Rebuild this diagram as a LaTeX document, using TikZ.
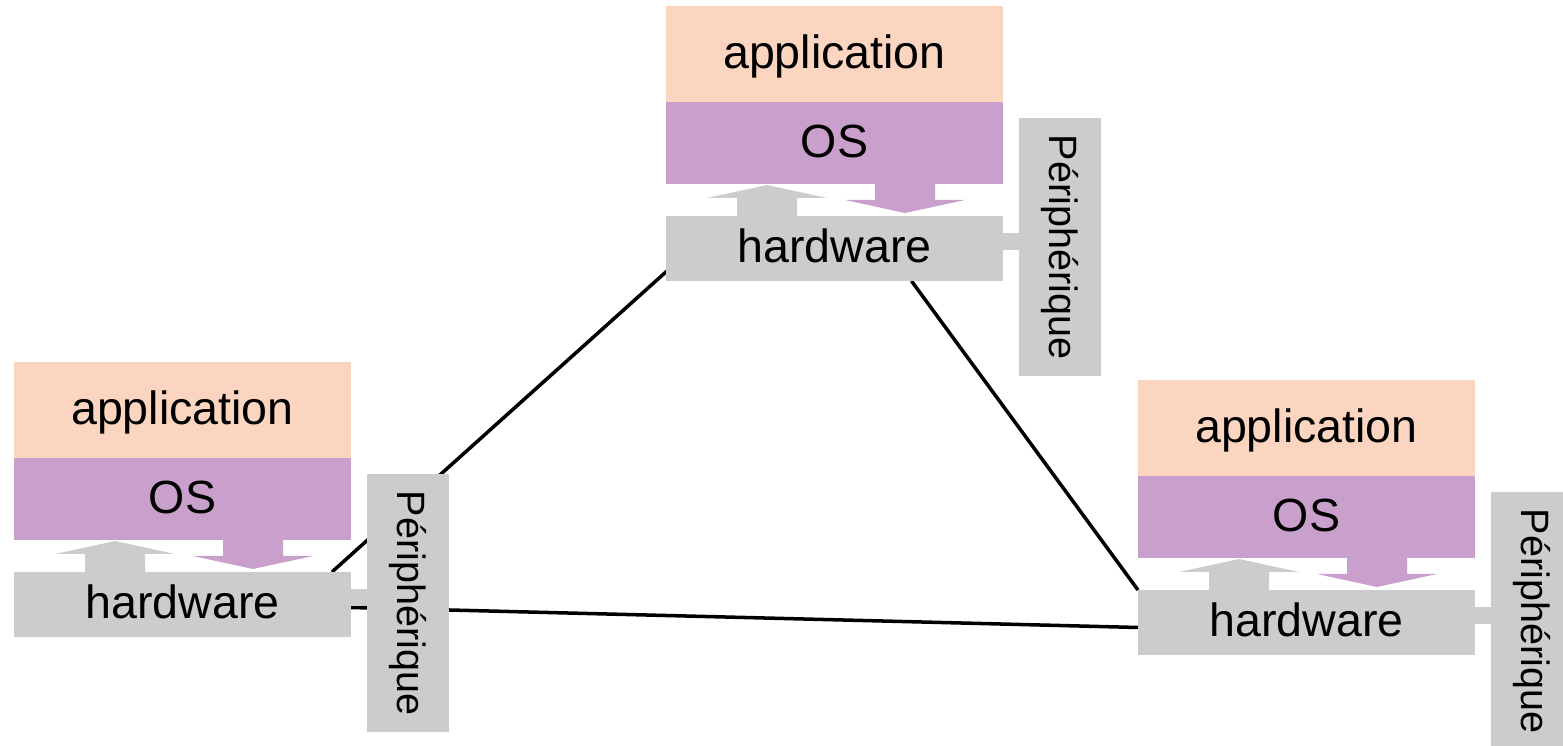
\documentclass[tikz,border=0pt]{standalone}
\usepackage{fontspec}
\setmainfont{Liberation Sans}
\usetikzlibrary{calc,backgrounds}
\definecolor{appcol}{RGB}{252,213,192}
\definecolor{oscol}{RGB}{200,160,203}
\definecolor{hwcol}{RGB}{204,204,204}
\tikzset{%
  stack box/.style={
    inner sep=0pt,
    outer sep=0pt,
    minimum width=6.74cm,
    text height=0.58cm,
    text depth=0pt,
    anchor=north west,
    font=\fontsize{26.5}{30}\selectfont
  },
  periph/.style={
    fill=hwcol,
    rotate=-90,
    inner sep=0pt,
    minimum width=5.16cm,
    minimum height=1.64cm,
    font=\fontsize{22.5}{26}\selectfont
  },
  link/.style={line width=2pt, black},
}

\begin{document}
\begin{tikzpicture}[x=0.02cm,y=-0.02cm]
    \useasboundingbox (0,0) rectangle (1563,746);
    % three machines: application / OS / hardware + peripheral
    \foreach \x/\y/\n in {666/6/T,14/362/L,1138/380/R}{
        \node[stack box,fill=appcol,minimum height=1.92cm] (app\n) at (\x,\y) {application};
        \node[stack box,fill=oscol,minimum height=1.64cm] (os\n) at (app\n.south west) {OS};
        \node[stack box,fill=hwcol,minimum height=1.3cm] (hw\n) at ({\x},{\y+210}) {hardware};
        \node[periph] (per\n) at ({\x+394},{\y+241}) {Périphérique};
        \fill[hwcol] ({\x+336},{\y+227}) rectangle ({\x+354},{\y+244});
        % up arrow (hardware -> OS)
        \fill[hwcol] ({\x+71},{\y+211}) -- ({\x+71},{\y+192}) -- ({\x+41},{\y+192}) -- ({\x+101},{\y+179})
            -- ({\x+161},{\y+192}) -- ({\x+131},{\y+192}) -- ({\x+131},{\y+211}) -- cycle;
        % down arrow (OS -> hardware)
        \fill[oscol] ({\x+209},{\y+177}) -- ({\x+209},{\y+194}) -- ({\x+179},{\y+194}) -- ({\x+239},{\y+207})
            -- ({\x+299},{\y+194}) -- ({\x+269},{\y+194}) -- ({\x+269},{\y+177}) -- cycle;
    }
    \begin{pgfonlayer}{background}
        \draw[link] ($(hwT.south west)+(1,-10)$) -- ($(hwL.north east)+(-19,0)$);
        \draw[link] ($(hwT.south)+(77,0)$) -- (hwR.north west);
        \draw[link] ($(hwL.east)+(0,3)$) -- ($(hwR.west)+(0,5)$);
    \end{pgfonlayer}
\end{tikzpicture}
\end{document}
